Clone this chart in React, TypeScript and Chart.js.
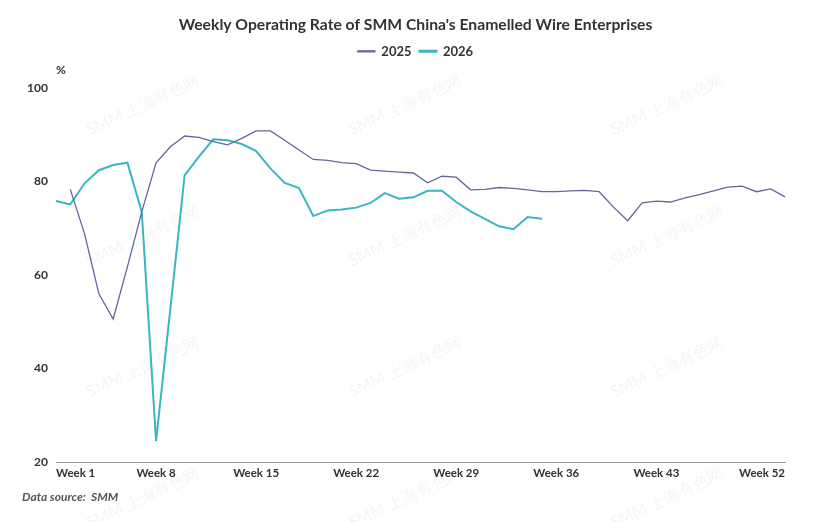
import React, { useEffect, useRef } from "react";
import { Chart, registerables } from "chart.js";

Chart.register(...registerables);

const weeks: string[] = Array.from({ length: 52 }, (_, i) => `Week ${i + 1}`);
const shownTicks: string[] = ["Week 1", "Week 8", "Week 15", "Week 22", "Week 29", "Week 36", "Week 43", "Week 52"];

const rate2025: (number | null)[] = [
  null, 78.3, 68.8, 56.0, 50.6, 61.8, 73.5, 84.0, 87.4, 89.7,
  89.4, 88.5, 87.8, 89.2, 90.8, 90.8, 88.8, 86.7, 84.7, 84.5,
  84.0, 83.8, 82.4, 82.2, 82.0, 81.8, 79.7, 81.1, 80.9, 78.2,
  78.3, 78.7, 78.5, 78.2, 77.8, 77.8, 78.0, 78.1, 77.8, 74.5,
  71.6, 75.4, 75.8, 75.6, 76.5, 77.2, 78.0, 78.8, 79.0, 77.8,
  78.4, 76.7,
];

const rate2026: (number | null)[] = [
  75.8, 75.1, 79.6, 82.4, 83.5, 84.0, 73.5, 24.5, 52.8, 81.3,
  85.3, 89.0, 88.8, 88.0, 86.5, 82.8, 79.7, 78.6, 72.6, 73.8,
  74.0, 74.4, 75.4, 77.5, 76.3, 76.6, 78.0, 78.0, 75.6, 73.6,
  72.0, 70.4, 69.8, 72.4, 72.0,
  null, null, null, null, null, null, null, null, null, null,
  null, null, null, null, null, null, null,
];

const titleText = "Weekly Operating Rate of SMM China's Enamelled Wire Enterprises";
const sourceText = "Data source:  SMM";
const unitText = "%";
const watermarkText = "SMM 上海有色网";

const FONT = "Lato, 'Noto Sans', sans-serif";

export default function App() {
  const ref = useRef<HTMLCanvasElement | null>(null);

  useEffect(() => {
    document.body.style.margin = "0";
    const canvas = ref.current;
    if (!canvas) return;

    const extras = {
      id: "extras",
      beforeInit(chart: any) {
        const lg = chart.legend;
        if (lg) {
          const orig = lg.fit;
          lg.fit = function () {
            orig.call(this);
            this.height += 20;
          };
        }
      },
      beforeDatasetsDraw(chart: any) {
        const ctx = chart.ctx;
        ctx.save();
        ctx.font = `16px ${FONT}`;
        ctx.fillStyle = "rgba(0,0,0,0.045)";
        ctx.textAlign = "center";
        ctx.textBaseline = "middle";
        const cols = [143, 405, 667];
        const rows = [105, 236, 367, 498];
        for (const cx of cols) {
          for (const cy of rows) {
            ctx.save();
            ctx.translate(cx, cy);
            ctx.rotate(-25 * Math.PI / 180);
            ctx.fillText(watermarkText, 0, 0);
            ctx.restore();
          }
        }
        ctx.restore();
      },
      afterDraw(chart: any) {
        const ctx = chart.ctx;
        ctx.save();
        ctx.fillStyle = "#333";
        ctx.font = `bold 12px ${FONT}`;
        ctx.textAlign = "left";
        ctx.textBaseline = "middle";
        ctx.fillText(unitText, chart.chartArea.left, 70);
        ctx.fillStyle = "#555";
        ctx.font = `italic bold 12px ${FONT}`;
        ctx.fillText(sourceText, 22, 497);
        ctx.restore();
      },
    };

    const chart = new Chart(canvas, {
      type: "line",
      data: {
        labels: weeks,
        datasets: [
          {
            label: "2025",
            data: rate2025,
            borderColor: "#63679c",
            backgroundColor: "#63679c",
            borderWidth: 1.3,
            pointRadius: 0,
            pointHoverRadius: 0,
            tension: 0,
            spanGaps: false,
            yAxisID: "y",
          },
          {
            label: "2026",
            data: rate2026,
            borderColor: "#3bb5c0",
            backgroundColor: "#3bb5c0",
            borderWidth: 2,
            pointRadius: 0,
            pointHoverRadius: 0,
            tension: 0,
            spanGaps: false,
            yAxisID: "y",
          },
        ],
      },
      options: {
        responsive: false,
        animation: false,
        layout: { padding: { left: 0, right: 0, top: 0, bottom: 38 } },
        plugins: {
          title: {
            display: true,
            text: titleText,
            color: "#333",
            font: { family: FONT, size: 15.7, weight: "bold" },
            padding: { top: 16, bottom: 2 },
          },
          legend: {
            display: true,
            labels: {
              color: "#333",
              font: { family: FONT, size: 13, weight: "bold" },
              boxWidth: 17,
              boxHeight: 1,
              padding: 8,
            },
          },
          tooltip: { enabled: false },
        },
        scales: {
          x: {
            type: "category",
            offset: false,
            grid: { display: false, drawTicks: false },
            border: { display: true, color: "#999", width: 1 },
            afterBuildTicks: (scale: any) => {
              scale.ticks = scale.ticks.filter((t: any) => shownTicks.includes(weeks[t.value]));
            },
            ticks: {
              autoSkip: false,
              maxRotation: 0,
              align: "inner",
              padding: 4,
              color: "#333",
              font: { family: FONT, size: 11.5, weight: "bold" },
            },
          },
          y: {
            min: 20,
            max: 100,
            position: "left",
            grid: { display: false, drawTicks: false },
            border: { display: false },
            afterFit: (scale: any) => {
              scale.width = 56;
            },
            ticks: {
              stepSize: 20,
              padding: 8,
              color: "#333",
              font: { family: FONT, size: 12, weight: "bold" },
            },
          },
          yRight: {
            position: "right",
            min: 20,
            max: 100,
            display: true,
            grid: { display: false, drawTicks: false },
            border: { display: false },
            ticks: { display: false },
            afterFit: (scale: any) => {
              scale.width = 46;
            },
          },
        },
      },
      plugins: [extras],
    } as any);

    return () => chart.destroy();
  }, []);

  return (
    <div style={{ position: "fixed", left: 0, top: 0, width: 831, height: 522, background: "#fff" }}>
      <canvas ref={ref} width={831} height={522} />
    </div>
  );
}
